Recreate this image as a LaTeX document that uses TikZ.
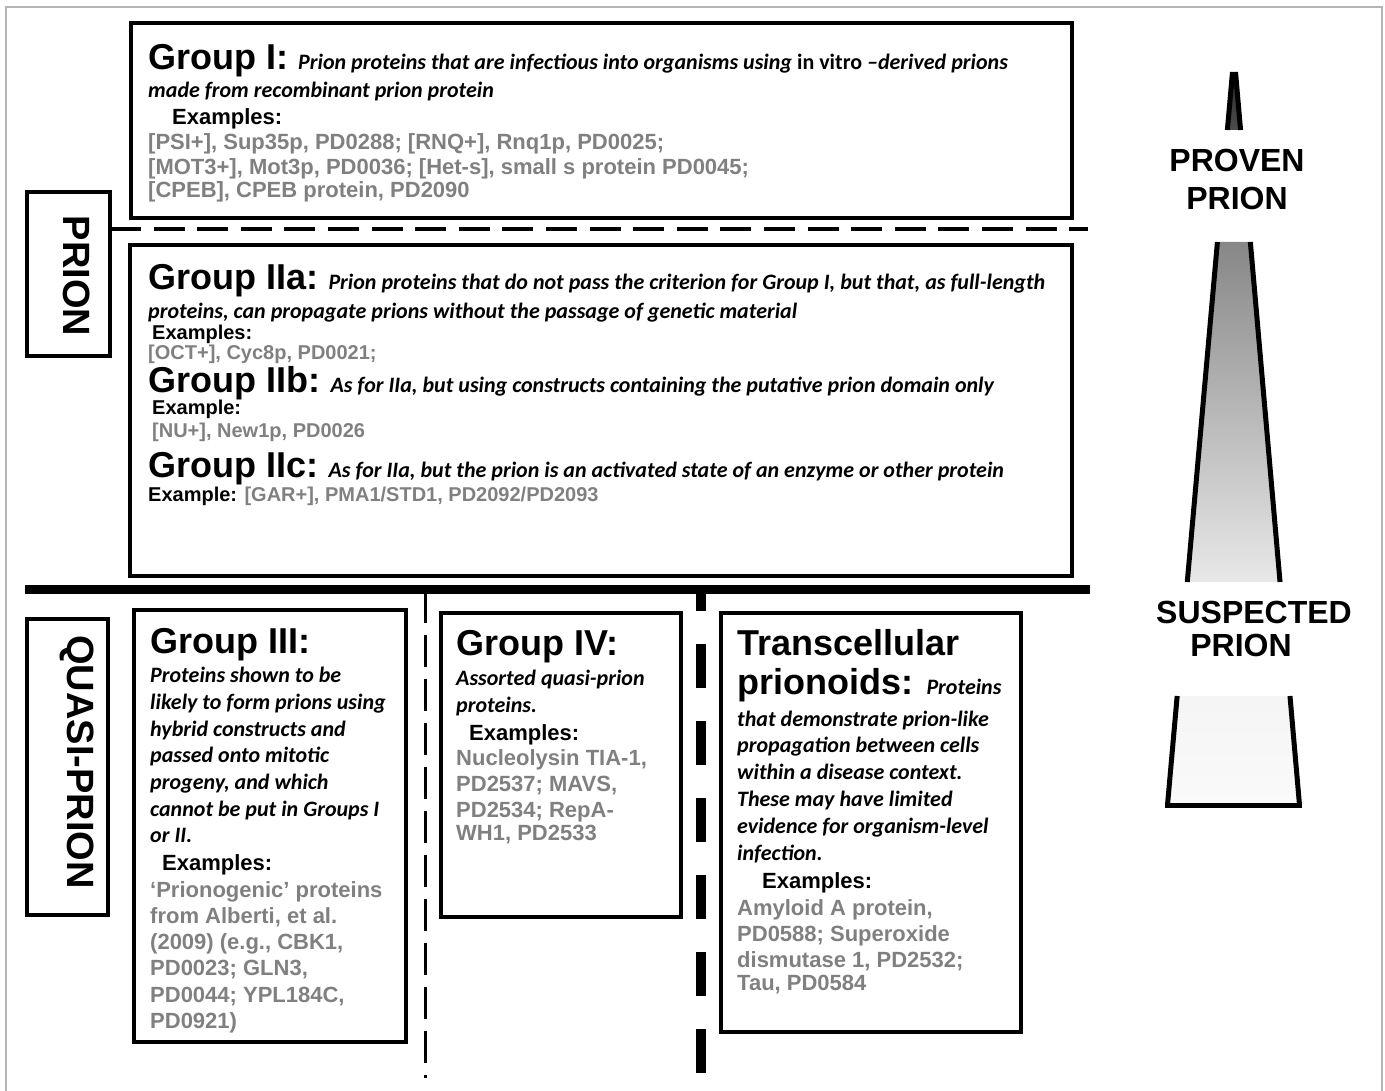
\documentclass[tikz,border=0pt]{standalone}
\usepackage{fontspec}
\setmainfont{Liberation Sans}
\newfontfamily\calfont{Carlito}
\usetikzlibrary{positioning}
\definecolor{exgray}{RGB}{128,128,128}
\definecolor{framegray}{RGB}{180,180,180}
\newcommand\descf{\calfont\bfseries\itshape\fontsize{22}{26}\selectfont}
\tikzset{
    box/.style={draw, line width=4pt},
    ttl/.style={anchor=base west, inner sep=0pt, font=\bfseries\fontsize{36}{40}\selectfont},
    dsc/.style={anchor=base west, inner sep=0pt, font=\descf},
    exm/.style={anchor=base west, inner sep=0pt, font=\bfseries\fontsize{22}{26}\selectfont},
    exs/.style={anchor=base west, inner sep=0pt, font=\bfseries\fontsize{20}{24}\selectfont},
    exg/.style={exm, text=exgray},
    sidelbl/.style={font=\bfseries\fontsize{38}{40}\selectfont, rotate=-90},
    level/.style={anchor=base, inner sep=0pt, font=\bfseries\fontsize{32}{34}\selectfont},
}
\begin{document}
\begin{tikzpicture}[x=1pt, y=-1pt]
    \useasboundingbox (0,0) rectangle (1385,1091);
    % outer frame
    \draw[framegray, line width=2.5pt] (6,1095) -- (6,7) -- (1382,7) -- (1382,1095);

    % side labels
    \draw[box] (27,192) rectangle (110,356);
    \node[sidelbl] (prion) at (77,276) {PRION};
    \draw[box] (27,619) rectangle (108,915);
    \node[sidelbl] (quasi) at (77,762) {QUASI-PRION};

    % separators
    \coordinate (dashL) at (110,229);
    \coordinate (dashR) at (1088,229);
    \draw[line width=4pt, dash pattern=on 31pt off 12.6pt] (dashL) -- (dashR);
    \coordinate (solidL) at (25,589);
    \coordinate (solidR) at (1090,589);
    \draw[line width=9pt] (solidL) -- (solidR);
    \coordinate (thinT) at (425,591);
    \coordinate (thinB) at (425,1078);
    \draw[line width=3pt, dash pattern=on 32pt off 12pt] (thinT) -- (thinB);
    \coordinate (thickT) at (701,593);
    \coordinate (thickB) at (701,1074);
    \draw[line width=10pt, dash pattern=on 44pt off 33pt, dash phase=26pt] (thickT) -- (thickB);

    % Group I
    \draw[box] (131,23) rectangle (1072,218);
    \node[ttl] (g1t) at (148,70) {Group I: \descf Prion proteins that are infectious into organisms using {\upshape in vitro} –derived prions};
    \node[dsc] (g1d) at (148,98) {made from recombinant prion protein};
    \node[exm] (g1e) at (172,125) {Examples:};
    \foreach \y/\tx in {150/{[PSI+], Sup35p, PD0288; [RNQ+], Rnq1p, PD0025;},
                        175/{[MOT3+], Mot3p, PD0036; [Het-s], small s protein PD0045;},
                        198/{[CPEB], CPEB protein, PD2090}}
        \node[exg] (g1x\y) at (148,\y) {\tx};

    % Group II
    \draw[box] (130,245) rectangle (1072,576);
    \node[ttl] (g2a) at (148,290) {Group IIa:\hspace{-3pt} \descf Prion proteins that do not pass the criterion for Group I, but that, as full-length};
    \node[dsc] (g2d) at (148,319) {proteins, can propagate prions without the passage of genetic material};
    \node[exs] (g2ae) at (152,340) {Examples:};
    \node[exs, text=exgray] (g2ax) at (148,360) {[OCT+], Cyc8p, PD0021;};
    \node[ttl] (g2b) at (148,392) {Group IIb:\hspace{-3pt} \descf As for IIa, but using constructs containing the putative prion domain only};
    \node[exs] (g2be) at (152,414) {Example:};
    \node[exs, text=exgray] (g2bx) at (152,437) {[NU+], New1p, PD0026};
    \node[ttl] (g2c) at (148,477) {Group IIc:\hspace{-3pt} \descf As for IIa, but the prion is an activated state of an enzyme or other protein};
    \node[exs] (g2ce) at (148,501) {Example: \textcolor{exgray}{[GAR+], PMA1/STD1, PD2092/PD2093}};

    % Group III
    \draw[box] (134,610) rectangle (406,1042);
    \node[ttl] (g3t) at (150,653) {Group III:};
    \foreach \tx [count=\i] in {Proteins shown to be, likely to form prions using, hybrid constructs and,
                               passed onto mitotic, {progeny, and which}, cannot be put in Groups I, or II.}
        \node[dsc] (g3d\i) at (150,{682.7+26.7*(\i-1)}) {\tx};
    \node[exm] (g3e) at (162,870) {Examples:};
    \foreach \tx [count=\i] in {{‘Prionogenic’ proteins}, {from Alberti, et al.}, {(2009) (e.g., CBK1,},
                               {PD0023; GLN3,}, {PD0044; YPL184C,}, {PD0921)}}
        \node[exg] (g3x\i) at (150,{897+26.3*(\i-1)}) {\tx};

    % Group IV
    \draw[box] (441,613) rectangle (681,917);
    \node[ttl] (g4t) at (456,655) {Group IV:};
    \node[dsc] (g4d1) at (456,685) {Assorted quasi-prion};
    \node[dsc] (g4d2) at (456,712) {proteins.};
    \node[exm] (g4e) at (469,740) {Examples:};
    \foreach \y/\tx in {765/{Nucleolysin TIA-1,}, 791/{PD2537; MAVS,}, 817/{PD2534; RepA-}, 840/{WH1, PD2533}}
        \node[exg] (g4x\y) at (456,\y) {\tx};

    % Transcellular prionoids
    \draw[box] (721,613) rectangle (1021,1032);
    \node[ttl] (tct) at (737,655) {Transcellular};
    \node[ttl] (tcp) at (737,694) {prionoids: \descf Proteins};
    \foreach \tx [count=\i] in {that demonstrate prion-like, propagation between cells, within a disease context.,
                               These may have limited, evidence for organism-level, infection.}
        \node[dsc] (tcd\i) at (737,{726+26.8*(\i-1)}) {\tx};
    \node[exm] (tce) at (762,888) {Examples:};
    \foreach \y/\tx in {915/{Amyloid A protein,}, 941/{PD0588; Superoxide}, 967/{dismutase 1, PD2532;}, 990/{Tau, PD0584}}
        \node[exg] (tcx\y) at (737,\y) {\tx};

    % tapered scale
    \foreach \ya/\yb/\ca/\cb in {72/130/black!85/black!70, 242/582/black!47/black!9, 696/805/black!4/black!2} {
        \shade[top color=\ca, bottom color=\cb]
            ({1232.5-(\ya-72)*0.08868},\ya) -- ({1235.5+(\ya-72)*0.08731},\ya)
            -- ({1235.5+(\yb-72)*0.08731},\yb) -- ({1232.5-(\yb-72)*0.08868},\yb) -- cycle;
        \draw[line width=5pt] ({1232.5-(\ya-72)*0.08868},\ya) -- ({1232.5-(\yb-72)*0.08868},\yb);
        \draw[line width=5pt] ({1235.5+(\ya-72)*0.08731},\ya) -- ({1235.5+(\yb-72)*0.08731},\yb);
    }
    \draw[line width=5pt] ({1232.5-733*0.08868-2.5},805) -- ({1235.5+733*0.08731+2.5},805);
    \node[level] (prov) at (1237,172) {PROVEN};
    \node[level] (prov2) at (1237,210) {PRION};
    \node[level] (susp) at (1254,623) {SUSPECTED};
    \node[level] (susp2) at (1241,656) {PRION};
\end{tikzpicture}
\end{document}
